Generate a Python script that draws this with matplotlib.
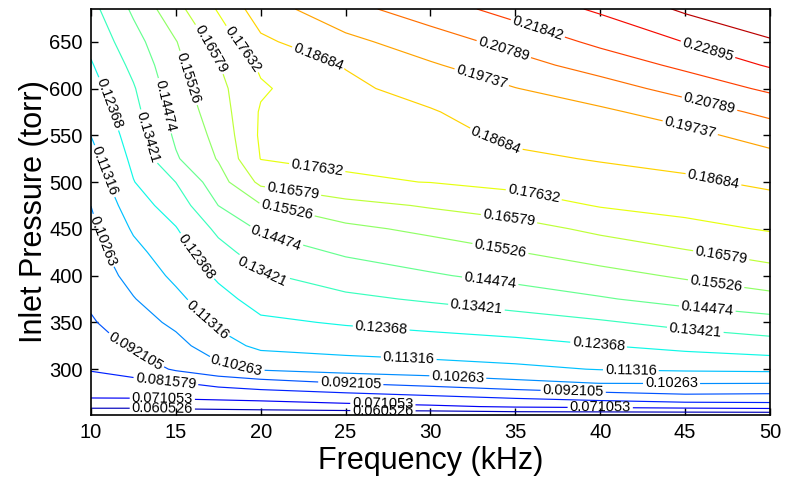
import numpy as np
import matplotlib.pyplot as plt

plt.rcParams['font.family'] = ['Liberation Sans', 'DejaVu Sans']

# grid of the map: frequency (kHz) in columns, inlet pressure (torr) in rows
frequencia = [10, 12.5, 15, 17.5, 20, 25, 30, 35, 40, 45, 50]
pressao = [251, 260, 270, 285, 300, 325, 350, 375, 400, 425, 450,
           475, 500, 525, 550, 575, 600, 625, 650, 685]

valores = [
    [0.0520, 0.0520, 0.0520, 0.0520, 0.0520, 0.0520, 0.0520, 0.0530, 0.0530, 0.0530, 0.0530],
    [0.0626, 0.0626, 0.0637, 0.0647, 0.0658, 0.0680, 0.0695, 0.0722, 0.0734, 0.0750, 0.0763],
    [0.0718, 0.0720, 0.0727, 0.0736, 0.0744, 0.0767, 0.0797, 0.0829, 0.0861, 0.0891, 0.0885],
    [0.0775, 0.0789, 0.0806, 0.0846, 0.0876, 0.0922, 0.0956, 0.0997, 0.1028, 0.1030, 0.1028],
    [0.0823, 0.0855, 0.0935, 0.0996, 0.1038, 0.1068, 0.1089, 0.1110, 0.1136, 0.1147, 0.1154],
    [0.0867, 0.0938, 0.0992, 0.1087, 0.1155, 0.1176, 0.1189, 0.1204, 0.1233, 0.1265, 0.1296],
    [0.0911, 0.0979, 0.1049, 0.1152, 0.1219, 0.1246, 0.1268, 0.1295, 0.1330, 0.1374, 0.1409],
    [0.0938, 0.1021, 0.1106, 0.1203, 0.1276, 0.1321, 0.1355, 0.1393, 0.1438, 0.1483, 0.1521],
    [0.0960, 0.1062, 0.1154, 0.1253, 0.1329, 0.1392, 0.1437, 0.1478, 0.1520, 0.1566, 0.1614],
    [0.0982, 0.1102, 0.1192, 0.1305, 0.1392, 0.1461, 0.1503, 0.1549, 0.1599, 0.1648, 0.1696],
    [0.1004, 0.1144, 0.1231, 0.1365, 0.1461, 0.1530, 0.1575, 0.1619, 0.1680, 0.1732, 0.1772],
    [0.1027, 0.1189, 0.1285, 0.1448, 0.1545, 0.1622, 0.1669, 0.1710, 0.1770, 0.1797, 0.1831],
    [0.1061, 0.1233, 0.1343, 0.1508, 0.1682, 0.1752, 0.1765, 0.1794, 0.1824, 0.1851, 0.1888],
    [0.1096, 0.1260, 0.1436, 0.1560, 0.1766, 0.1777, 0.1795, 0.1848, 0.1876, 0.1899, 0.1942],
    [0.1133, 0.1284, 0.1465, 0.1583, 0.1778, 0.1800, 0.1828, 0.1893, 0.1916, 0.1945, 0.2014],
    [0.1164, 0.1309, 0.1486, 0.1606, 0.1773, 0.1822, 0.1860, 0.1931, 0.1956, 0.2018, 0.2106],
    [0.1196, 0.1333, 0.1506, 0.1630, 0.1750, 0.1846, 0.1909, 0.1971, 0.2031, 0.2119, 0.2203],
    [0.1228, 0.1368, 0.1527, 0.1653, 0.1780, 0.1874, 0.1963, 0.2039, 0.2124, 0.2207, 0.2300],
    [0.1262, 0.1408, 0.1548, 0.1700, 0.1848, 0.1947, 0.2028, 0.2115, 0.2207, 0.2292, 0.2383],
    [0.1310, 0.1465, 0.1625, 0.1773, 0.1925, 0.2045, 0.2135, 0.2225, 0.2305, 0.2412, 0.2490],
]

# 20 contour levels, like contour(X, Y, Z, 20)
niveis = np.linspace(0.05, 0.25, 20)

# where the inline labels go (frequency, pressure)
pos_rotulos = [
    (46.3, 639), (36.3, 663), (34.3, 641), (33.0, 611), (23.4, 633),
    (33.7, 538), (46.4, 581), (45.3, 558), (46.6, 497),
    (18.7, 639), (16.7, 639), (15.7, 611), (14.2, 581), (13.1, 547),
    (10.8, 582), (10.7, 511), (10.5, 436),
    (16.2, 420), (20.0, 398), (20.8, 435), (21.5, 467), (21.9, 490), (23.3, 512),
    (36.0, 479), (34.6, 457), (34.1, 427), (33.5, 392), (32.7, 365),
    (27.1, 345), (39.9, 326), (16.8, 352), (28.7, 304), (41.8, 296),
    (18.5, 298), (31.6, 288), (44.2, 282),
    (47.1, 419), (46.8, 388), (46.3, 363), (45.6, 342),
    (12.5, 315), (14.4, 285), (14.2, 267), (14.2, 256),
    (25.3, 283), (27.2, 267), (27.2, 256), (38.4, 272), (40.0, 261),
]

fig = plt.figure(figsize=(7.85, 4.78), dpi=100)
ax = fig.add_axes([0.1159, 0.1318, 0.865, 0.8494])

X, Y = np.meshgrid(frequencia, pressao)
Z = np.array(valores)
cs = ax.contour(X, Y, Z, levels=niveis, cmap='jet', vmin=0.05, vmax=0.25,
                linewidths=0.85)
ax.clabel(cs, inline=True, fmt='%.5g', fontsize=10.5, colors='black',
          manual=pos_rotulos, inline_spacing=2)

ax.set_xlim(10, 50)
ax.set_ylim(251, 685)
ax.set_xticks(range(10, 51, 5))
ax.set_yticks(range(300, 651, 50))
ax.tick_params(direction='in', top=True, right=True, labelsize=14.5,
               length=5, width=1, pad=6)
for s in ax.spines.values():
    s.set_linewidth(1.2)
ax.set_xlabel('Frequency (kHz)', fontsize=22, labelpad=3)
ax.set_ylabel('Inlet Pressure (torr)', fontsize=22, labelpad=0)

fig.savefig('out.png', dpi=100)
